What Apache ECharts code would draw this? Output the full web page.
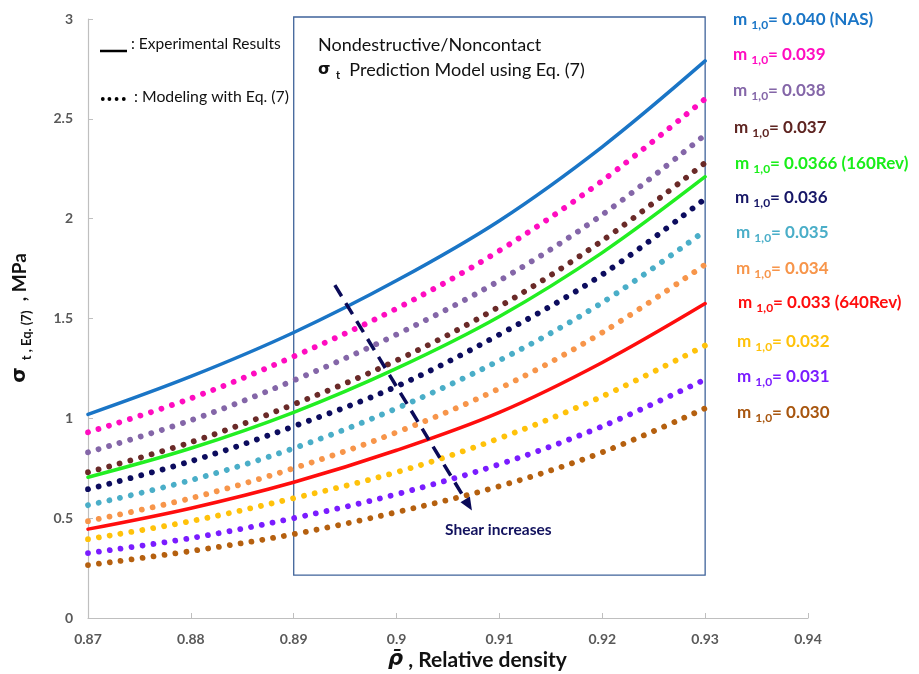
<!DOCTYPE html>
<html>
<head>
<meta charset="utf-8">
<script src="https://cdn.jsdelivr.net/npm/echarts@6/dist/echarts.min.js"></script>
<style>
  html, body { margin: 0; padding: 0; background: #fff; }
  #chart { width: 919px; height: 674px; }
</style>
</head>
<body>
<div id="chart"></div>
<script>
// Relative density (x) sample positions
const xValues = [0.87, 0.88, 0.89, 0.90, 0.91, 0.92, 0.93];

// Tensile strength sigma_t (MPa) for each m_1,0 value
const m040 = [1.02, 1.21, 1.43, 1.69, 1.99, 2.36, 2.79];
const m039 = [0.93, 1.10, 1.31, 1.55, 1.84, 2.19, 2.60];
const m038 = [0.83, 0.99, 1.19, 1.42, 1.69, 2.02, 2.42];
const m037 = [0.73, 0.88, 1.07, 1.29, 1.56, 1.89, 2.28];
const m0366 = [0.705, 0.85, 1.03, 1.25, 1.51, 1.83, 2.21];
const m036 = [0.645, 0.785, 0.96, 1.16, 1.42, 1.72, 2.10];
const m035 = [0.565, 0.69, 0.85, 1.05, 1.29, 1.58, 1.94];
const m034 = [0.485, 0.60, 0.75, 0.93, 1.15, 1.43, 1.77];
const m033 = [0.445, 0.55, 0.68, 0.84, 1.03, 1.28, 1.575];
const m032 = [0.395, 0.485, 0.60, 0.73, 0.90, 1.11, 1.365];
const m031 = [0.325, 0.40, 0.50, 0.62, 0.77, 0.96, 1.195];
const m030 = [0.265, 0.335, 0.42, 0.53, 0.66, 0.83, 1.05];

// Label texts for each curve
const mLabels = ['0.040 (NAS)', '0.039', '0.038', '0.037', '0.0366 (160Rev)', '0.036',
                 '0.035', '0.034', '0.033 (640Rev)', '0.032', '0.031', '0.030'];

// Axis ranges
const xMin = 0.87, xMax = 0.94, xStep = 0.01;
const yMin = 0, yMax = 3, yStep = 0.5;

// Box range (density window of the prediction model)
const boxX = [0.89, 0.93];
const boxY = [3.01, 0.215];

// Arrow (direction of increasing shear)
const arrowFrom = [0.894, 1.667];
const arrowTo = [0.907, 0.566];

const curves = [
  { data: m040,  color: '#1a75c6', text: '#1a75c6', solid: true,  lx: 733, ly: 20 },
  { data: m039,  color: '#ff0cc0', text: '#ff0cc0', solid: false, lx: 733, ly: 55 },
  { data: m038,  color: '#8466a8', text: '#8466a8', solid: false, lx: 733, ly: 91 },
  { data: m037,  color: '#6a2a28', text: '#5e2421', solid: false, lx: 734, ly: 128 },
  { data: m0366, color: '#22ee22', text: '#19ee19', solid: true,  lx: 735, ly: 164 },
  { data: m036,  color: '#0c0c5e', text: '#161666', solid: false, lx: 735, ly: 198 },
  { data: m035,  color: '#4aaec8', text: '#4aaec8', solid: false, lx: 736, ly: 233 },
  { data: m034,  color: '#f7954a', text: '#f7954a', solid: false, lx: 736, ly: 269 },
  { data: m033,  color: '#ff0d0d', text: '#ff0d0d', solid: true,  lx: 738, ly: 303 },
  { data: m032,  color: '#ffc20a', text: '#ffc20a', solid: false, lx: 737, ly: 342 },
  { data: m031,  color: '#7a1cff', text: '#7a1cff', solid: false, lx: 737, ly: 377 },
  { data: m030,  color: '#b5600f', text: '#a8560f', solid: false, lx: 737, ly: 413 }
];

const chart = echarts.init(document.getElementById('chart'), null, { renderer: 'canvas' });

const series = curves.map((c, i) => {
  const s = {
    type: 'line',
    data: xValues.map((x, k) => [x, c.data[k]]),
    smooth: 0.35,
    showSymbol: false,
    silent: true,
    z: c.solid ? 3 : 2,
    lineStyle: c.solid
      ? { color: c.color, width: 3.5, cap: 'round' }
      : { color: c.color, width: 5.8, type: [0.01, 11], cap: 'round' }
  };
  if (i === 0) {
    s.markLine = {
      silent: true,
      animation: false,
      symbol: ['none', 'triangle'],
      symbolSize: [11, 13],
      label: { show: false },
      lineStyle: { color: '#0a0a58', width: 3.5, type: [13, 8] },
      data: [[{ coord: arrowFrom }, { coord: arrowTo }]]
    };
  }
  return s;
});

const tickFont = { color: '#595959', fontWeight: 'bold', fontSize: 14, fontFamily: 'Lato' };

chart.setOption({
  animation: false,
  backgroundColor: '#fff',
  grid: { left: 88, right: 111, top: 19, bottom: 56 },
  xAxis: {
    type: 'value', min: xMin, max: xMax, interval: xStep,
    axisLine: { show: true, lineStyle: { color: '#bfbfbf', width: 1.2 } },
    axisTick: { show: true, inside: true, length: 5, lineStyle: { color: '#bfbfbf' } },
    splitLine: { show: false },
    axisLabel: Object.assign({ margin: 14, formatter: v => String(Number(v.toFixed(2))) }, tickFont)
  },
  yAxis: {
    type: 'value', min: yMin, max: yMax, interval: yStep,
    axisLine: { show: true, lineStyle: { color: '#bfbfbf', width: 1.2 } },
    axisTick: { show: true, inside: true, length: 5, lineStyle: { color: '#bfbfbf' } },
    splitLine: { show: false },
    axisLabel: Object.assign({ margin: 15, formatter: v => String(Number(v.toFixed(2))) }, tickFont)
  },
  series: series
});

// Annotation graphics
const graphics = [];

// Curve labels on the right
curves.forEach((c, i) => {
  graphics.push({
    type: 'text', silent: true, x: c.lx, y: c.ly,
    style: {
      text: '{m|m }{s|1,0}{v|= ' + mLabels[i] + '}',
      verticalAlign: 'middle',
      fill: c.text,
      rich: {
        m: { fontFamily: 'Lato', fontWeight: 'bold', fontSize: 17, lineHeight: 22, verticalAlign: 'middle', fill: c.text },
        s: { fontFamily: 'Lato', fontWeight: 'bold', fontSize: 12, lineHeight: 10, verticalAlign: 'bottom', fill: c.text },
        v: { fontFamily: 'Lato', fontWeight: 'bold', fontSize: 17, lineHeight: 22, verticalAlign: 'middle', fill: c.text }
      }
    }
  });
});

// Legend of line styles (top-left)
graphics.push({ type: 'line', silent: true, shape: { x1: 100, y1: 51, x2: 127, y2: 51 }, style: { stroke: '#000', lineWidth: 2.5 } });
[102.8, 109.4, 116.6, 123.8].forEach(cx => {
  graphics.push({ type: 'circle', silent: true, shape: { cx: cx, cy: 99, r: 1.9 }, style: { fill: '#000' } });
});
graphics.push({ type: 'text', silent: true, x: 131, y: 44,
  style: { text: ': Experimental Results', fontFamily: 'Lato', fontSize: 15.5, fill: '#111', verticalAlign: 'middle' } });
graphics.push({ type: 'text', silent: true, x: 134, y: 97,
  style: { text: ': Modeling with Eq. (7)', fontFamily: 'Lato', fontSize: 15.8, fill: '#111', verticalAlign: 'middle' } });

// Box caption
graphics.push({ type: 'text', silent: true, x: 318, y: 45,
  style: { text: 'Nondestructive/Noncontact', fontFamily: 'Lato', fontSize: 18, fill: '#111', verticalAlign: 'middle' } });
graphics.push({ type: 'text', silent: true, x: 318, y: 70,
  style: {
    text: '{g|σ }{s|t}{v|  Prediction Model using Eq. (7)}',
    verticalAlign: 'middle',
    rich: {
      g: { fontFamily: 'DejaVu Sans', fontWeight: 'bold', fontSize: 16, lineHeight: 22, verticalAlign: 'middle', fill: '#111' },
      s: { fontFamily: 'Lato', fontWeight: 'bold', fontSize: 11, lineHeight: 10, verticalAlign: 'bottom', fill: '#111' },
      v: { fontFamily: 'Lato', fontSize: 18, lineHeight: 22, verticalAlign: 'middle', fill: '#111' }
    }
  } });

// Arrow caption
graphics.push({ type: 'text', silent: true, x: 445, y: 530,
  style: { text: 'Shear increases', fontFamily: 'Lato', fontWeight: 'bold', fontSize: 15.5, fill: '#12125e', verticalAlign: 'middle' } });

// Y axis title (rotated)
graphics.push({ type: 'text', silent: true, x: 20, y: 318, rotation: Math.PI / 2,
  style: {
    text: '{g|σ }{s|t , Eq. (7)}{v|  , MPa}',
    align: 'center', verticalAlign: 'middle',
    rich: {
      g: { fontFamily: 'DejaVu Sans', fontWeight: 'bold', fontSize: 20, lineHeight: 26, verticalAlign: 'middle', fill: '#111' },
      s: { fontFamily: 'Lato', fontWeight: 'bold', fontSize: 13, lineHeight: 11, verticalAlign: 'bottom', fill: '#111' },
      v: { fontFamily: 'Lato', fontWeight: 'bold', fontSize: 19, lineHeight: 26, verticalAlign: 'middle', fill: '#111' }
    }
  } });

// X axis title
graphics.push({ type: 'text', silent: true, x: 388, y: 660,
  style: {
    text: '{r|\u03C1\u0304}{v| , Relative density}',
    verticalAlign: 'middle',
    rich: {
      r: { fontFamily: 'DejaVu Sans', fontStyle: 'italic', fontWeight: 'bold', fontSize: 21, lineHeight: 26, fill: '#111' },
      v: { fontFamily: 'Lato', fontWeight: 'bold', fontSize: 21, lineHeight: 26, fill: '#111' }
    }
  } });

// Box around the prediction-model window, placed from data coordinates
const p1 = chart.convertToPixel({ gridIndex: 0 }, [boxX[0], boxY[0]]);
const p2 = chart.convertToPixel({ gridIndex: 0 }, [boxX[1], boxY[1]]);
graphics.push({
  type: 'rect', silent: true, z: 1,
  shape: { x: p1[0], y: p1[1], width: p2[0] - p1[0], height: p2[1] - p1[1] },
  style: { fill: 'none', stroke: '#3f639a', lineWidth: 1.3 }
});

chart.setOption({ graphic: graphics });
</script>
</body>
</html>
